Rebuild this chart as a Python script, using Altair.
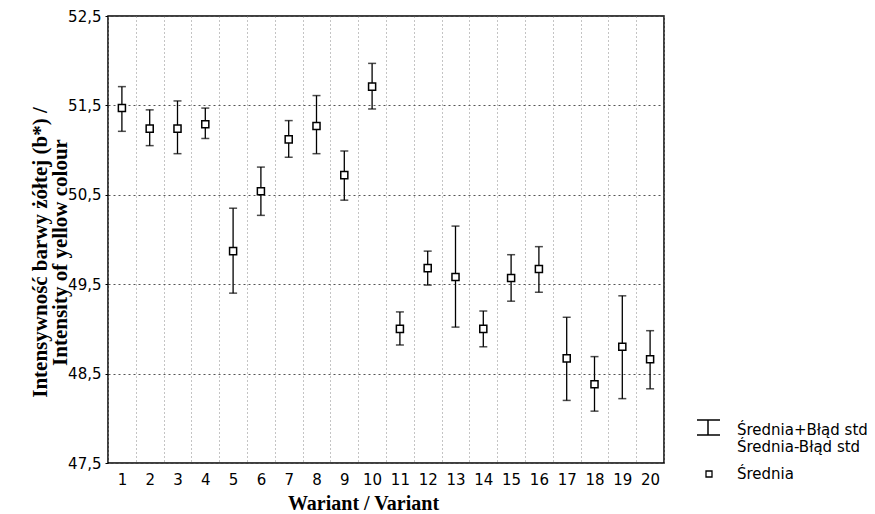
import altair as alt
import pandas as pd

# ---- data ----
variants = [str(i) for i in range(1, 21)]
means = [51.47, 51.24, 51.24, 51.29, 49.87, 50.54, 51.12, 51.27, 50.72, 51.71,
         49.00, 49.68, 49.58, 49.00, 49.57, 49.67, 48.67, 48.38, 48.80, 48.66]
upper = [51.71, 51.45, 51.55, 51.47, 50.35, 50.81, 51.33, 51.61, 50.99, 51.97,
         49.19, 49.87, 50.15, 49.20, 49.83, 49.92, 49.13, 48.69, 49.37, 48.98]
lower = [51.21, 51.05, 50.96, 51.13, 49.40, 50.27, 50.92, 50.96, 50.44, 51.46,
         48.82, 49.49, 49.02, 48.80, 49.31, 49.41, 48.20, 48.08, 48.22, 48.33]
y_ticks = [47.5, 48.5, 49.5, 50.5, 51.5, 52.5]
legend_labels = ["Średnia+Błąd std", "Średnia-Błąd std", "Średnia"]
x_title = "Wariant / Variant"
y_title = ["Intensywność barwy żółtej (b*) /", "Intensity of yellow colour"]

df = pd.DataFrame({"variant": variants, "mean": means, "upper": upper, "lower": lower})

SANS = "DejaVu Sans"
SERIF = "Liberation Serif"

xscale = alt.Scale(type="band", domain=variants, paddingInner=0, paddingOuter=0)
yscale = alt.Scale(domain=[47.5, 52.5], nice=False, zero=False)

x_axis = alt.Axis(
    title=x_title, labelAngle=0, tickBand="extent", ticks=False, tickSize=0,
    grid=True, gridDash=[1, 3], gridColor="#888888", gridWidth=1, domain=False,
    labelFont=SANS, labelFontSize=15, labelPadding=9, labelColor="black",
    titleFont=SERIF, titleFontSize=20, titleFontWeight="bold", titleColor="black",
    titleX=255, titleY=40, titleBaseline="middle",
)
y_axis = alt.Axis(
    values=y_ticks,
    labelExpr="replace(format(datum.value, '.1f'), '.', ',')",
    grid=True, gridDash=[2, 3], gridColor="#555555", gridWidth=1,
    tickSize=3, tickColor="black", domain=False,
    labelFont=SANS, labelFontSize=15, labelPadding=4, labelColor="black",
    title=y_title, titleFont=SERIF, titleFontSize=21, titleFontWeight="bold",
    titleColor="black", titleAngle=270, titleX=-68, titleY=236,
    titleBaseline="middle", titleLineHeight=20,
)

base = alt.Chart(df)
x_enc = alt.X("variant:N", scale=xscale, axis=x_axis)

bars = base.mark_rule(color="black", strokeWidth=1.3).encode(
    x=x_enc,
    y=alt.Y("lower:Q", scale=yscale, axis=y_axis),
    y2="upper:Q",
)
cap_top = base.mark_tick(color="black", thickness=1.5, size=8).encode(
    x=alt.X("variant:N", scale=xscale), y=alt.Y("upper:Q", scale=yscale)
)
cap_bot = base.mark_tick(color="black", thickness=1.5, size=8).encode(
    x=alt.X("variant:N", scale=xscale), y=alt.Y("lower:Q", scale=yscale)
)
pts = base.mark_square(
    filled=True, fill="white", stroke="black", strokeWidth=1.5, size=50, opacity=1
).encode(x=alt.X("variant:N", scale=xscale), y=alt.Y("mean:Q", scale=yscale))

# ---- legend (drawn outside the plot area, on the right) ----
def legend_text(label, ypos):
    return alt.Chart(pd.DataFrame({"t": [label]})).mark_text(
        align="left", baseline="middle", font=SANS, fontSize=15, color="black"
    ).encode(x=alt.value(629), y=alt.value(ypos), text="t:N")

leg_src = alt.Chart(pd.DataFrame({"t": [legend_labels[0]]}))
leg_stem = leg_src.mark_rule(color="black", strokeWidth=1.5).encode(
    x=alt.value(600), y=alt.value(404), y2=alt.value(419)
)
leg_cap1 = leg_src.mark_rule(color="black", strokeWidth=1.5).encode(
    x=alt.value(589), x2=alt.value(612), y=alt.value(404)
)
leg_cap2 = leg_src.mark_rule(color="black", strokeWidth=1.5).encode(
    x=alt.value(589), x2=alt.value(612), y=alt.value(419)
)
leg_sq = leg_src.mark_square(
    filled=True, fill="white", stroke="black", strokeWidth=1.3, size=36, opacity=1
).encode(x=alt.value(601), y=alt.value(458))

chart = alt.layer(
    bars, cap_top, cap_bot, pts,
    leg_stem, leg_cap1, leg_cap2, leg_sq,
    legend_text(legend_labels[0], 414),
    legend_text(legend_labels[1], 431),
    legend_text(legend_labels[2], 458),
).properties(
    width=556, height=447,
    autosize=alt.AutoSizeParams(type="none"),
    padding={"left": 100, "top": 8, "right": 203, "bottom": 50},
    background="white",
).configure_view(
    stroke="black", strokeWidth=1.5
)

chart.save("out.html", embed_options={"renderer": "svg", "actions": False})
